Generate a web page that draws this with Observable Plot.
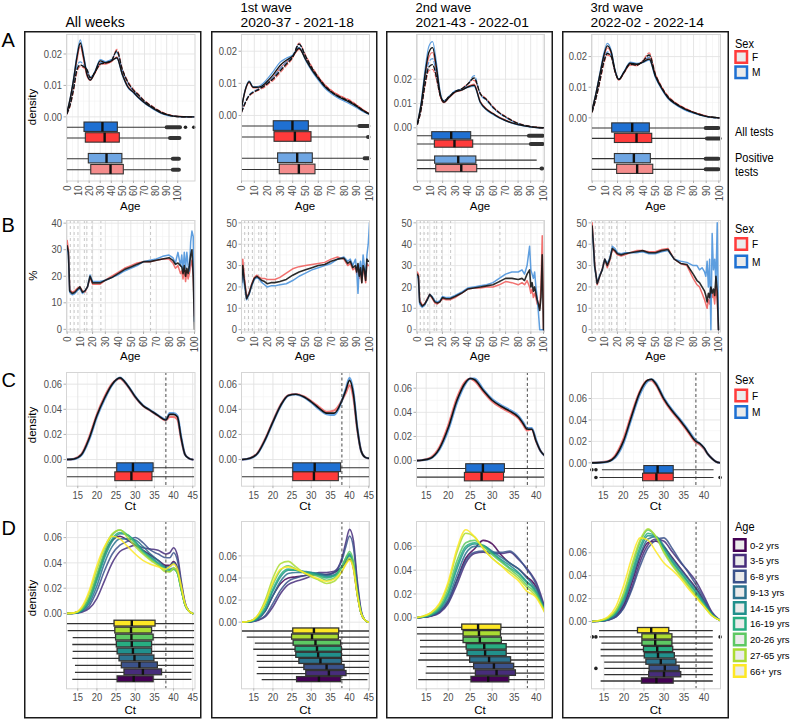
<!DOCTYPE html>
<html><head><meta charset="utf-8">
<script src="https://cdn.jsdelivr.net/npm/d3@7"></script>
<script src="https://cdn.jsdelivr.net/npm/@observablehq/plot@0.6"></script>
<style>
html,body{margin:0;padding:0;background:#fff;}
#root{position:relative;width:792px;height:720px;overflow:hidden;background:#fff;}
</style></head><body><div id="root"></div>
<script>
// ---------------- DATA ----------------
const colTitles = [["All weeks"], ["1st wave", "2020-37 - 2021-18"], ["2nd wave", "2021-43 - 2022-01"], ["3rd wave", "2022-02 - 2022-14"]];
const rowLetters = ["A", "B", "C", "D"];
const ageGroups = ["0-2 yrs","3-5 yrs","6-8 yrs","9-13 yrs","14-15 yrs","16-19 yrs","20-26 yrs","27-65 yrs","66+ yrs"];
const ageBreaks = [2.5, 5.5, 8.5, 13.5, 15.5, 19.5, 26.5, 65.5];
const ctCutoff = [38];

// Row A: age density (all tests solid, positive tests dashed)
const ageA1 = [0,3,6,9,12,15,18,21,25,30,35,40,45,50,55,60,65,70,75,80,85,90,95,100,105,110,115];
const ageA = [0,3,6,9,12,15,18,21,25,30,35,40,45,50,55,60,65,70,75,80,85,90,95,100];
const A1_all  = [0.0014,0.006,0.012,0.019,0.0235,0.019,0.0135,0.0117,0.014,0.0178,0.0172,0.0178,0.0188,0.0135,0.0095,0.0078,0.006,0.0045,0.0033,0.0022,0.0013,0.0007,0.0003,0.0001,0.00005,0,0];
const A1_allM = [0.0015,0.0062,0.0125,0.0198,0.0245,0.0198,0.014,0.0118,0.0142,0.0182,0.0176,0.0182,0.0186,0.0132,0.0093,0.0076,0.0058,0.0043,0.0031,0.002,0.0011,0.0005,0.0002,0.0001,0,0,0];
const A1_allF = [0.0013,0.0057,0.0115,0.018,0.0225,0.018,0.013,0.0116,0.0138,0.0172,0.0168,0.0175,0.0191,0.0138,0.0098,0.008,0.0062,0.0047,0.0035,0.0024,0.0015,0.0009,0.0004,0.0002,0.0001,0,0];
const A1_pos  = [0.001,0.004,0.009,0.015,0.0165,0.016,0.015,0.0125,0.014,0.0168,0.0172,0.0178,0.021,0.015,0.011,0.0085,0.0068,0.005,0.0037,0.0025,0.0015,0.0008,0.0003,0.0001,0,0,0];
const A1_posM = [0.0011,0.0045,0.0098,0.0162,0.0175,0.0165,0.0152,0.0126,0.0143,0.0172,0.0175,0.0182,0.0205,0.0148,0.0108,0.0083,0.0066,0.0048,0.0035,0.0023,0.0013,0.0007,0.0003,0.0001,0,0,0];
const A1_posF = [0.0009,0.0037,0.0085,0.0142,0.016,0.0156,0.0148,0.0124,0.0138,0.0165,0.017,0.0176,0.0215,0.0153,0.0113,0.0088,0.007,0.0052,0.0039,0.0027,0.0017,0.0009,0.0004,0.0001,0,0,0];

const A2_all  = [0.0023,0.008,0.0105,0.0088,0.0088,0.009,0.0098,0.011,0.0128,0.0155,0.0172,0.0185,0.0209,0.0175,0.0142,0.0115,0.009,0.0073,0.006,0.005,0.004,0.0028,0.0015,0.0004];
const A2_allM = [0.0024,0.0082,0.0108,0.009,0.009,0.0094,0.0104,0.0118,0.0138,0.0165,0.0178,0.0188,0.0212,0.0172,0.0138,0.011,0.0085,0.0068,0.0055,0.0045,0.0035,0.0024,0.0012,0.0003];
const A2_allF = [0.0022,0.0078,0.0102,0.0086,0.0086,0.0087,0.0093,0.0104,0.012,0.0147,0.0166,0.0182,0.0206,0.0178,0.0146,0.012,0.0095,0.0078,0.0065,0.0055,0.0045,0.0032,0.0018,0.0005];
const A2_pos  = [0.001,0.004,0.0062,0.0072,0.0078,0.0085,0.0092,0.0102,0.0115,0.0138,0.016,0.0182,0.0222,0.0185,0.0148,0.0118,0.0093,0.0075,0.0062,0.0052,0.0043,0.003,0.0016,0.0004];
const A2_posM = [0.0011,0.0042,0.0064,0.0074,0.008,0.0088,0.0096,0.0106,0.012,0.0145,0.0166,0.0185,0.0222,0.0182,0.0144,0.0114,0.0089,0.0071,0.0058,0.0048,0.0039,0.0027,0.0014,0.0003];
const A2_posF = [0.0009,0.0038,0.006,0.007,0.0076,0.0082,0.0088,0.0098,0.011,0.0132,0.0155,0.0179,0.0225,0.0188,0.0152,0.0122,0.0097,0.0079,0.0066,0.0056,0.0047,0.0033,0.0018,0.0005];

const A3_all  = [0.002,0.01,0.022,0.031,0.033,0.025,0.014,0.0105,0.0125,0.0148,0.0155,0.0168,0.0175,0.0105,0.0075,0.0058,0.0042,0.003,0.002,0.0013,0.0008,0.0004,0.0001,0];
const A3_allM = [0.002,0.011,0.024,0.0335,0.0355,0.027,0.015,0.0107,0.0127,0.015,0.0156,0.0166,0.017,0.0102,0.0072,0.0055,0.004,0.0028,0.0019,0.0012,0.0007,0.0003,0.0001,0];
const A3_allF = [0.0019,0.0095,0.0205,0.029,0.031,0.0235,0.0132,0.0103,0.0123,0.0146,0.0154,0.017,0.018,0.0108,0.0078,0.006,0.0044,0.0032,0.0021,0.0014,0.0009,0.0005,0.0002,0];
const A3_pos  = [0.0015,0.008,0.018,0.025,0.026,0.021,0.0135,0.011,0.0128,0.015,0.016,0.018,0.0205,0.014,0.0115,0.0085,0.0062,0.0045,0.003,0.0018,0.001,0.0005,0.0002,0];
const A3_posM = [0.0016,0.0085,0.019,0.027,0.0285,0.022,0.0138,0.0112,0.013,0.0152,0.016,0.0178,0.0215,0.0138,0.0112,0.0082,0.006,0.0043,0.0028,0.0017,0.0009,0.0004,0.0001,0];
const A3_posF = [0.0014,0.0075,0.017,0.0235,0.024,0.02,0.0132,0.0108,0.0126,0.0148,0.016,0.0182,0.0195,0.0142,0.0118,0.0088,0.0064,0.0047,0.0032,0.0019,0.0011,0.0006,0.0002,0];

const A4_all  = [0.0027,0.008,0.014,0.02,0.0235,0.0215,0.0155,0.0125,0.0148,0.0178,0.0175,0.0182,0.0192,0.0135,0.0095,0.0065,0.0048,0.0035,0.0025,0.0017,0.001,0.0005,0.0002,0];
const A4_allM = [0.0027,0.0082,0.0145,0.0208,0.0243,0.022,0.0158,0.0126,0.015,0.0182,0.0178,0.018,0.0188,0.013,0.0092,0.0062,0.0045,0.0032,0.0022,0.0015,0.0009,0.0004,0.0001,0];
const A4_allF = [0.0026,0.0078,0.0135,0.0192,0.0228,0.021,0.0152,0.0124,0.0146,0.0174,0.0172,0.0184,0.0197,0.014,0.0098,0.0068,0.0051,0.0038,0.0028,0.0019,0.0012,0.0006,0.0002,0];
const A4_pos  = [0.002,0.0065,0.012,0.018,0.021,0.02,0.0152,0.0125,0.0148,0.0175,0.0172,0.0185,0.0205,0.014,0.0098,0.0068,0.005,0.0037,0.0026,0.0018,0.0011,0.0005,0.0002,0];
const A4_posM = [0.0021,0.0068,0.0125,0.0185,0.0215,0.0203,0.0153,0.0126,0.015,0.0178,0.0175,0.0183,0.0198,0.0136,0.0095,0.0065,0.0048,0.0035,0.0024,0.0017,0.001,0.0005,0.0002,0];
const A4_posF = [0.0019,0.0062,0.0115,0.0172,0.0205,0.0198,0.015,0.0124,0.0146,0.0172,0.017,0.0187,0.0212,0.0144,0.0101,0.0071,0.0052,0.0039,0.0028,0.0019,0.0012,0.0006,0.0002,0];

// Row A boxplots, order: M all, F all, M positive, F positive
const A1_q1 = [15.8,17,19.7,21.9], A1_med = [32,34,35.7,39.3], A1_q3 = [45.9,47.7,50,51.3], A1_hi = [90,93,95,95];
const A1_oLo = [90.5,93.5,96,96], A1_oHi = [102.5,102,101.5,101.5], A1_dots = [[107,114.5],[],[],[]];
const A2_q1 = [25.2,25.8,28.6,29.9], A2_med = [39.8,41.7,43.5,44.8], A2_q3 = [52.6,54.7,55.7,57.8], A2_hi = [92,98.5,95,99.5];
const A2_oLo = [92.5,99.2,96.5,null], A2_oHi = [99.5,99.6,99.5,null], A2_dots = [[],[],[],[]];
const A3_q1 = [11.7,13.8,14,14.9], A3_med = [26.8,29.4,32.4,34.8], A3_q3 = [42.7,44.3,46.8,47.5], A3_hi = [88.5,90,95.2,97.8];
const A3_oLo = [89,90.5,null,99], A3_oHi = [100,100,null,99.5], A3_dots = [[],[],[],[]];
const A4_q1 = [15.8,17.9,17.9,19.7], A4_med = [31.6,35,32.9,35.5], A4_q3 = [45.5,47.4,46.3,48.2], A4_hi = [89.5,90.4,89.5,89.5];
const A4_oLo = [90,91,90,90], A4_oHi = [100,101,100,100], A4_dots = [[],[],[],[]];

// Row B: positivity (%) by age
const ageB = [0,1,2,4,6,8,10,12,14,16,18,20,23,26,30,35,40,45,50,55,60,65,70,75,80,83,85,87,89,90,91,92,93,94,95,96,97,98,99,100];
const B1_all = [31.5,29,14.5,13.5,14,15,16,14,14.5,16,20,17.5,17.5,17.5,18.5,19.5,21,22.5,23.5,24.5,25.5,25.5,26,26.5,27,26,24.5,25,24,23.5,21,24,20,23,21,24,28,30,20,0];
const B1_F   = [33.5,30,15,14,14.5,15.5,16,14.5,14,16,19.5,17,17,17,18.5,20,21.5,23,24,25,25.5,25.5,26,26.5,26.5,25,23,24,21,22,19,23,18,22,19,21,24,26,20,5];
const B1_M   = [30.5,28,14,13,13.5,14.5,15.5,13.5,14.5,16,20.5,18,18,18,18.5,19.5,20.5,22,23,24,25.5,26,26.5,27.5,28,27,25,29,24,28,22,29,23,29,24,22,33,37,35,3];
const B2_all = [22,30,24,14.5,17,21,24,25,24,23,22.5,21.5,22,22,22.5,23.5,25.5,27,28,29,30,30.5,32,33,33.5,31,32,29,30,27,31,25,29,22,30,28,23,33,32,32];
const B2_F   = [24,33,26,15,17.5,21.5,24.5,25.5,24.5,24,24,23.5,23.5,23.5,24.5,26.5,28.5,29.5,30,30.5,31,31.5,33,34,33,30,31,28,29,26,30,24,28,22,29,26,22,31,30,30];
const B2_M   = [19,28,22,14,16.5,20.5,23.5,24.5,23.5,22,21,20,20.5,20.5,21,21.5,23,25,26.5,28,29,30,31,33,34,32,33,30,33,28,17,29,32,25,35,30,25,35,40,50];
const B3_all = [26,25,13,11,12,14,16.5,15,13,12.5,13,15,14.5,14.5,15.5,17,19,19.5,20,20.5,21,22.5,24,24,23.5,24,23,26,28,20,22,18,20,17,14,12,9,15,35,0];
const B3_F   = [27,26,14,11.5,12,14.5,16.5,14.5,12.5,12,13,14.5,14,14,15,17,19,19.5,19.5,20,20,21,22.5,22,21,22,21,23,20,17,19,15,17,15,12,12,10,20,44,0];
const B3_M   = [25,24,12,10.5,11.5,14,16.5,15.5,13.5,13,13.5,15.5,15,15,16,17.5,19.5,20,20.5,21,22,24,26,27,27,28,26,30,39,28,26,24,27,20,15,8,0,0,0,0];
const B4_all = [48.5,40,30,21.5,25,28,33,30,33,38,37,35.5,35,35.5,36,36.5,37,36,36,37,37.5,33,31,30.5,26,23,22,20,18,16,13,17,15,20,17,19,16,25,18,0];
const B4_F   = [50,41,31,21,25,28.5,33,29,32.5,37.5,36.5,35,34.5,35,36,37,37,36.5,36.5,37.5,38,33,31,30,24,21,20,17,14,12,10,14,12,18,15,17,12,20,14,0];
const B4_M   = [47,39,29,22,25.5,28,33,31,33.5,39,38,36,35.5,36,36,36,36.5,35.5,35.5,36.5,37,33,32,31.5,30,30,28,29,27,25,32,20,33,0,45,28,33,22,50,0];

// Row C: Ct density by sex
const ctC12 = [12,14,16,18,20,22,24,26,28,30,32,34,36,38,39,40,41,42,43,44,45];
const C1_all = [0,0.0005,0.004,0.017,0.035,0.049,0.06,0.065,0.059,0.05,0.043,0.039,0.035,0.0315,0.036,0.036,0.034,0.017,0.004,0.001,0];
const C1_F   = [0,0.0006,0.0045,0.018,0.036,0.05,0.0605,0.0645,0.0585,0.0495,0.0428,0.0388,0.0348,0.0313,0.034,0.034,0.032,0.016,0.004,0.001,0];
const C1_M   = [0,0.0004,0.0037,0.016,0.034,0.048,0.0595,0.0652,0.0592,0.0502,0.0432,0.0392,0.0352,0.0318,0.037,0.037,0.035,0.018,0.004,0.001,0];
const C2_all = [0,0.001,0.005,0.016,0.03,0.043,0.051,0.052,0.05,0.046,0.041,0.037,0.037,0.047,0.055,0.063,0.052,0.025,0.007,0.002,0.001];
const C2_F   = [0,0.0011,0.0053,0.0165,0.0305,0.0435,0.0512,0.0522,0.0503,0.0465,0.042,0.038,0.039,0.047,0.053,0.059,0.049,0.024,0.007,0.002,0.001];
const C2_M   = [0,0.0009,0.0047,0.0155,0.0295,0.0425,0.0508,0.0518,0.0497,0.0455,0.0402,0.0362,0.0355,0.047,0.056,0.065,0.054,0.026,0.007,0.002,0.001];
const ctC3 = [12.8,14,16,18,20,22,24,25,26,28,30,32,34,36,37,38,39,40,41,42];
const C3_all = [0,0.0003,0.002,0.01,0.027,0.05,0.065,0.068,0.067,0.058,0.05,0.045,0.041,0.036,0.031,0.026,0.026,0.016,0.008,0.004];
const C3_F   = [0,0.0004,0.0025,0.011,0.029,0.052,0.066,0.068,0.066,0.057,0.049,0.044,0.04,0.035,0.03,0.025,0.026,0.016,0.008,0.004];
const C3_M   = [0,0.0003,0.0018,0.009,0.025,0.048,0.064,0.068,0.068,0.059,0.051,0.046,0.042,0.037,0.032,0.027,0.027,0.017,0.008,0.004];
const ctC4 = [12,14,16,18,20,22,24,26,27,28,30,32,34,36,38,39,40,41,42,43,44];
const C4_all = [0,0.0002,0.001,0.006,0.02,0.043,0.065,0.077,0.078,0.074,0.06,0.049,0.04,0.03,0.02,0.018,0.014,0.008,0.004,0.001,0];
const C4_F   = [0,0.0003,0.0013,0.007,0.022,0.045,0.066,0.077,0.077,0.073,0.059,0.048,0.039,0.029,0.019,0.017,0.013,0.008,0.004,0.001,0];
const C4_M   = [0,0.0002,0.0009,0.005,0.018,0.041,0.063,0.076,0.078,0.075,0.061,0.05,0.041,0.031,0.021,0.018,0.014,0.008,0.004,0.001,0];
// Row C boxplots, order: M, F
const C1_q1 = [25.3,24.8], C1_med = [29.4,29], C1_q3 = [34.8,34.5], C1_lo = [12.1,12.1], C1_hi = [45.5,45.5], C1_dots = [[],[]];
const C2_q1 = [25.3,25.3], C2_med = [30.9,30.7], C2_q3 = [37.8,37.2], C2_lo = [15,12], C2_hi = [45.2,45.2], C2_dots = [[],[]];
const C3_q1 = [24.1,23.8], C3_med = [27.9,27.6], C3_q3 = [32.9,32.7], C3_lo = [12.8,12.8], C3_hi = [41.9,41.9], C3_dots = [[],[]];
const C4_q1 = [25.2,24.9], C4_med = [28.5,28.2], C4_q3 = [32.5,32.5], C4_lo = [14.8,14.2], C4_hi = [42.5,42.5], C4_dots = [[12.2,13.2],[13.2,44]];

// Row D: Ct density by age group (0-2 ... 66+)
const ctD12 = [12,14,16,18,20,22,24,26,28,30,32,34,36,38,39,40,41,42,43,44,45];
const D1 = [
  [0,0.0003,0.003,0.012,0.029,0.047,0.058,0.061,0.058,0.054,0.05,0.046,0.042,0.038,0.038,0.041,0.036,0.021,0.007,0.002,0],
  [0,0.0001,0.001,0.004,0.012,0.026,0.04,0.049,0.052,0.054,0.052,0.051,0.05,0.047,0.048,0.052,0.046,0.026,0.009,0.002,0],
  [0,0.0002,0.0015,0.006,0.018,0.034,0.047,0.054,0.057,0.06,0.056,0.05,0.047,0.044,0.044,0.048,0.042,0.024,0.008,0.002,0],
  [0,0.0002,0.002,0.008,0.022,0.04,0.053,0.059,0.059,0.058,0.053,0.047,0.042,0.037,0.037,0.04,0.035,0.02,0.007,0.002,0],
  [0,0.0003,0.002,0.01,0.026,0.044,0.057,0.063,0.062,0.057,0.05,0.045,0.04,0.036,0.035,0.036,0.032,0.019,0.007,0.002,0],
  [0,0.0003,0.003,0.011,0.028,0.046,0.059,0.064,0.062,0.056,0.049,0.044,0.039,0.035,0.034,0.035,0.032,0.019,0.007,0.002,0],
  [0,0.0004,0.003,0.013,0.031,0.049,0.062,0.066,0.062,0.055,0.048,0.043,0.038,0.034,0.033,0.035,0.032,0.019,0.007,0.002,0],
  [0,0.0005,0.004,0.016,0.035,0.052,0.063,0.066,0.06,0.053,0.047,0.042,0.038,0.033,0.033,0.036,0.033,0.02,0.007,0.002,0],
  [0,0.0005,0.005,0.018,0.038,0.053,0.061,0.059,0.053,0.047,0.042,0.039,0.037,0.035,0.037,0.039,0.035,0.022,0.008,0.002,0]
];
const D2 = [
  [0,0.0005,0.003,0.01,0.024,0.035,0.04,0.041,0.042,0.043,0.043,0.043,0.045,0.05,0.054,0.057,0.049,0.025,0.008,0.002,0],
  [0,0.0002,0.0015,0.005,0.014,0.026,0.034,0.037,0.039,0.042,0.045,0.045,0.046,0.058,0.072,0.084,0.074,0.038,0.011,0.002,0],
  [0,0.0003,0.002,0.006,0.017,0.029,0.037,0.04,0.042,0.043,0.044,0.043,0.045,0.056,0.068,0.078,0.068,0.035,0.01,0.002,0],
  [0,0.0004,0.003,0.01,0.024,0.037,0.044,0.045,0.045,0.045,0.044,0.042,0.043,0.05,0.056,0.061,0.052,0.027,0.008,0.002,0],
  [0,0.0005,0.003,0.012,0.028,0.041,0.047,0.047,0.046,0.045,0.043,0.041,0.042,0.05,0.056,0.06,0.051,0.026,0.008,0.002,0],
  [0,0.0006,0.004,0.013,0.03,0.043,0.048,0.047,0.045,0.044,0.042,0.04,0.042,0.051,0.058,0.062,0.053,0.027,0.008,0.002,0],
  [0,0.0008,0.005,0.016,0.034,0.047,0.051,0.048,0.045,0.043,0.041,0.038,0.04,0.05,0.058,0.064,0.055,0.028,0.009,0.002,0],
  [0,0.001,0.006,0.02,0.04,0.053,0.055,0.05,0.045,0.041,0.038,0.035,0.037,0.046,0.053,0.058,0.05,0.026,0.008,0.002,0],
  [0,0.001,0.006,0.018,0.036,0.048,0.05,0.048,0.045,0.042,0.039,0.037,0.039,0.046,0.052,0.056,0.048,0.025,0.008,0.002,0]
];
const ctD3 = [12.8,14,16,18,20,22,24,26,28,30,32,34,36,38,39,40,41,42];
const D3 = [
  [0,0.0004,0.0015,0.005,0.014,0.032,0.05,0.058,0.065,0.062,0.053,0.046,0.041,0.034,0.031,0.026,0.017,0.006],
  [0,0.0003,0.0012,0.004,0.012,0.028,0.046,0.054,0.055,0.054,0.054,0.055,0.049,0.041,0.036,0.03,0.02,0.008],
  [0,0.0003,0.0015,0.005,0.013,0.031,0.048,0.055,0.056,0.055,0.055,0.056,0.05,0.04,0.035,0.028,0.018,0.007],
  [0,0.0004,0.0018,0.006,0.016,0.036,0.054,0.06,0.06,0.056,0.051,0.046,0.041,0.033,0.029,0.024,0.016,0.006],
  [0,0.0005,0.002,0.007,0.019,0.041,0.058,0.062,0.061,0.055,0.049,0.044,0.038,0.03,0.027,0.022,0.014,0.005],
  [0,0.0006,0.0025,0.008,0.021,0.044,0.06,0.063,0.06,0.054,0.048,0.042,0.037,0.029,0.026,0.021,0.014,0.005],
  [0,0.0008,0.003,0.009,0.024,0.048,0.063,0.065,0.06,0.053,0.047,0.041,0.035,0.027,0.024,0.02,0.013,0.005],
  [0,0.001,0.004,0.011,0.028,0.055,0.071,0.068,0.058,0.05,0.044,0.039,0.033,0.025,0.022,0.018,0.012,0.005],
  [0,0.001,0.004,0.012,0.03,0.058,0.074,0.068,0.058,0.05,0.044,0.037,0.031,0.022,0.02,0.017,0.011,0.004]
];
const ctD4 = [12,14,16,18,20,22,24,26,28,30,32,34,36,38,40,42,44];
const D4 = [
  [0,0.0004,0.0016,0.005,0.015,0.034,0.056,0.069,0.07,0.065,0.056,0.047,0.038,0.029,0.018,0.006,0.001],
  [0,0.0003,0.0013,0.004,0.013,0.03,0.052,0.067,0.072,0.07,0.061,0.052,0.044,0.035,0.022,0.008,0.001],
  [0,0.0003,0.0013,0.004,0.012,0.028,0.048,0.064,0.071,0.073,0.064,0.053,0.043,0.032,0.02,0.007,0.001],
  [0,0.0004,0.0018,0.006,0.017,0.037,0.058,0.072,0.074,0.066,0.055,0.046,0.037,0.028,0.017,0.006,0.001],
  [0,0.0005,0.002,0.007,0.019,0.04,0.062,0.075,0.074,0.064,0.053,0.044,0.035,0.026,0.016,0.006,0.001],
  [0,0.0006,0.0025,0.008,0.021,0.043,0.065,0.077,0.074,0.063,0.052,0.043,0.034,0.025,0.015,0.006,0.001],
  [0,0.0007,0.003,0.009,0.024,0.047,0.069,0.08,0.074,0.061,0.05,0.041,0.032,0.023,0.014,0.005,0.001],
  [0,0.0008,0.003,0.01,0.026,0.05,0.071,0.081,0.074,0.06,0.049,0.04,0.031,0.022,0.013,0.005,0.001],
  [0,0.001,0.004,0.013,0.032,0.056,0.073,0.071,0.061,0.051,0.045,0.038,0.029,0.021,0.013,0.005,0.001]
];
// Row D boxplots by age group (0-2 ... 66+)
const D1_q1 = [25.4,27.2,26.5,25.9,25.4,25.2,25,24.8,24.6], D1_med = [29.6,32,31.1,29.8,29.4,29.1,29,28.9,29.1], D1_q3 = [34.8,37,35.9,35,34.4,34.4,34.8,34.4,35.3];
const D1_lo = [13.7,14.4,14.4,13.7,13.8,13.7,13.8,12.5,12.2], D1_hi = [44.8,44.8,45.5,45.5,45.2,45.5,45.5,45.5,45.5];
const D2_q1 = [26.3,28.7,28.2,26.9,26.1,25.9,25.4,25,25.3], D2_med = [32,34.6,34,32.4,31.8,31.5,31.1,30.2,30.7], D2_q3 = [37.8,39.2,38.7,38,38,38,37.8,37.2,37.3];
const D2_lo = [17.2,15.9,16.3,15.9,15.9,15,15.4,13.3,12], D2_hi = [44.8,45.2,45.2,45.2,45.2,45.2,45.2,45.2,45.2];
const D3_q1 = [25.3,26.3,25.9,25,24.4,24.2,23.5,23.5,23.2], D3_med = [29.1,31,30.4,29.3,28.4,28.2,27.2,27,26.8], D3_q3 = [33.9,35.4,35,34.3,33.3,33.3,32.2,32,32.1];
const D3_lo = [13.3,15,15.2,13.3,13.7,13.7,13.7,12.9,12.9], D3_hi = [41.9,41.9,41.9,41.9,41.9,41.9,41.9,41.9,41.9];
const D4_q1 = [24.5,26.3,26.4,25.6,25.2,25,24.6,24.6,23.5], D4_med = [28.1,30,30.2,29.2,28.5,28.3,27.8,27.8,26.8], D4_q3 = [32.4,34.3,33.9,33.1,32.7,32.3,32.1,32.1,31.3];
const D4_lo = [14.3,15.2,15.2,15.2,14.3,14.3,14.5,13.9,13.9], D4_hi = [42.3,42.3,42.3,42.3,42.3,42.3,42.3,42.3,42.3];
const D4_dots = [[],[],[13],[],[],[],[],[12.1,13,44],[]];

// ---------------- STYLE / LAYOUT ----------------
const FONT = "'Liberation Sans', Arial, Helvetica, sans-serif";
const RED_L = "#f0625f", BLUE_L = "#4c93dc", BLK = "#141414";
const RED_D = "#ff3b3b", BLUE_D = "#1f70d2", RED_P = "#f48c8c", BLUE_P = "#6fa6e3";
const VIR = ["#440154","#472D7B","#3B528B","#2C728E","#21908C","#27AD81","#5DC863","#AADC32","#FDE725"];

const cols = [{l:66,r:194.5},{l:241,r:369},{l:416,r:544},{l:591,r:720}];
const rowsY = {A:{t:33.5,b:180}, B:{t:220,b:331.5}, C:{t:372,b:485.7}, D:{t:521,b:688.3}};
const root = document.getElementById("root");

// horizontally condense a text element (emulates the narrow label face of the original)
function condense(t, k) {
  const L = t.getComputedTextLength();
  if (L > 0) { t.setAttribute("textLength", (L * k).toFixed(2)); t.setAttribute("lengthAdjust", "spacingAndGlyphs"); }
}

function panel(ci, row, o) {
  const c = cols[ci], r = rowsY[row];
  const ML = 42, MR = 6, MT = 4, MB = 26;
  const W = c.r - c.l, H = r.b - r.t;
  const mid = a => a.slice(1).map((v, i) => (v + a[i]) / 2);
  const svg = Plot.plot({
    width: W + ML + MR, height: H + MT + MB,
    marginLeft: ML, marginRight: MR, marginTop: MT, marginBottom: MB,
    x: {domain: o.xdom}, y: {domain: o.ydom}, color: {type: "identity"},
    style: {fontFamily: FONT, fontSize: "11.5px", background: "transparent", color: "#4d4d4d", overflow: "visible", maxWidth: "none"},
    marks: [
      Plot.gridY({ticks: mid(o.yt), stroke: "#f2f2f2", strokeOpacity: 1, strokeWidth: 0.6}),
      Plot.gridX({ticks: mid(o.xt), stroke: "#f2f2f2", strokeOpacity: 1, strokeWidth: 0.6}),
      Plot.gridY({ticks: o.yt, stroke: "#e3e3e3", strokeOpacity: 1, strokeWidth: 0.9}),
      Plot.gridX({ticks: o.xt, stroke: "#e3e3e3", strokeOpacity: 1, strokeWidth: 0.9}),
      ...o.marks,
      Plot.frame({stroke: "#d5d5d5"}),
      Plot.axisX({ticks: o.xt, tickSize: 2.5, tickPadding: 2, tickRotate: o.rot ? -90 : 0, stroke: "#b0b0b0", fill: "#4d4d4d", label: null, tickFormat: d3.format("d")}),
      Plot.axisY({ticks: o.yt, tickSize: 2.5, tickPadding: 2, tickFormat: o.yfmt, stroke: "#b0b0b0", fill: "#4d4d4d", label: null})
    ]
  });
  svg.style.position = "absolute";
  svg.style.left = (c.l - ML) + "px";
  svg.style.top = (r.t - MT) + "px";
  root.appendChild(svg);
  svg.querySelectorAll("text").forEach(t => condense(t, 0.82));
}

const ln = (xs, ys, stroke, o = {}) => Plot.line(xs, {x: xs, y: ys, stroke, strokeWidth: o.w ?? 1.3,
  strokeDasharray: o.dash, strokeOpacity: o.op ?? 1, curve: o.curve ?? "monotone-x", clip: true});

function boxRows(q1, med, q3, lo, hi, ys, fills, oLo, oHi, dots) {
  return q1.map((_, i) => ({y: ys[i], q1: q1[i], med: med[i], q3: q3[i], lo: lo[i], hi: hi[i], fill: fills[i],
    oLo: oLo ? oLo[i] : null, oHi: oHi ? oHi[i] : null, dots: dots ? dots[i] : []}));
}
function boxMarks(rows, h, lw = 1.1) {
  const out = rows.filter(r => r.oLo != null);
  const dots = rows.flatMap(r => r.dots.map(x => ({x, y: r.y})));
  return [
    Plot.ruleY(rows, {y: "y", x1: "lo", x2: "hi", stroke: "#333", strokeWidth: lw}),
    Plot.ruleY(out, {y: "y", x1: "oLo", x2: "oHi", stroke: "#333", strokeWidth: 4, strokeLinecap: "round"}),
    Plot.dot(dots, {x: "x", y: "y", r: 1.8, fill: "#222"}),
    Plot.rect(rows, {x1: "q1", x2: "q3", y1: d => d.y - h, y2: d => d.y + h, fill: "fill", stroke: "#333", strokeWidth: lw}),
    Plot.ruleX(rows, {x: "med", y1: d => d.y - h, y2: d => d.y + h, stroke: "#111", strokeWidth: 2.4})
  ];
}

// ---------- Row A ----------
const ageTicks = d3.range(0, 101, 10);
const A_sets = [
  [ageA1, A1_allF, A1_allM, A1_all, A1_posF, A1_posM, A1_pos, A1_q1, A1_med, A1_q3, A1_hi, A1_oLo, A1_oHi, A1_dots],
  [ageA, A2_allF, A2_allM, A2_all, A2_posF, A2_posM, A2_pos, A2_q1, A2_med, A2_q3, A2_hi, A2_oLo, A2_oHi, A2_dots],
  [ageA, A3_allF, A3_allM, A3_all, A3_posF, A3_posM, A3_pos, A3_q1, A3_med, A3_q3, A3_hi, A3_oLo, A3_oHi, A3_dots],
  [ageA, A4_allF, A4_allM, A4_all, A4_posF, A4_posM, A4_pos, A4_q1, A4_med, A4_q3, A4_hi, A4_oLo, A4_oHi, A4_dots]
];
const AX = [[-0.45,115.6],[0,100],[-0.8,101],[-0.55,101.3]];
const AY = [[-0.0204,0.0262],[-0.0204,0.0252],[-0.0219,0.0384],[-0.0206,0.0272]];
const A_BOX_Y = [-0.0033,-0.0067,-0.0133,-0.0168];
A_sets.forEach((s, i) => {
  const [ag, aF, aM, a, pF, pM, p, q1, med, q3, hi, oLo, oHi, dots] = s;
  const rows = boxRows(q1, med, q3, [0,0,0,0], hi, A_BOX_Y, [BLUE_D, RED_D, BLUE_P, RED_P], oLo, oHi, dots);
  panel(i, "A", {xdom: AX[i], ydom: AY[i], xt: ageTicks, yt: [0, 0.01, 0.02], yfmt: d3.format(".2f"), rot: true,
    marks: [
      ln(ag, aF, RED_L, {w: 1.2, op: 0.9}), ln(ag, aM, BLUE_L, {w: 1.2, op: 0.9}),
      ln(ag, pF, RED_L, {w: 1.2, op: 0.9, dash: "4,2.5"}), ln(ag, pM, BLUE_L, {w: 1.2, op: 0.9, dash: "4,2.5"}),
      ln(ag, a, BLK, {w: 1.4}), ln(ag, p, BLK, {w: 1.4, dash: "4,2.5"}),
      ...boxMarks(rows, 0.0015)
    ]});
});

// ---------- Row B ----------
const B_sets = [[B1_F, B1_M, B1_all], [B2_F, B2_M, B2_all], [B3_F, B3_M, B3_all], [B4_F, B4_M, B4_all]];
const BX = [[-0.5,100.4],[0,100],[-0.5,100.8],[-0.5,101.6]];
const BY = [[-1,41],[-1.1,51.1],[-1.1,51.1],[-1.1,51.1]];
B_sets.forEach((s, i) => {
  panel(i, "B", {xdom: BX[i], ydom: BY[i], xt: ageTicks, yt: i === 0 ? [0,10,20,30,40] : [0,10,20,30,40,50],
    yfmt: d3.format("d"), rot: true,
    marks: [
      Plot.ruleX(ageBreaks, {stroke: "#b8b8b8", strokeDasharray: "3,3", strokeWidth: 0.8}),
      ln(ageB, s[0], RED_L, {w: 1.5, op: 0.9, curve: "linear"}),
      ln(ageB, s[1], BLUE_L, {w: 1.5, op: 0.9, curve: "linear"}),
      ln(ageB, s[2], BLK, {w: 1.6, op: 0.9, curve: "linear"})
    ]});
});

// ---------- Row C ----------
const C_sets = [
  [ctC12, C1_F, C1_M, C1_all, C1_q1, C1_med, C1_q3, C1_lo, C1_hi, C1_dots],
  [ctC12, C2_F, C2_M, C2_all, C2_q1, C2_med, C2_q3, C2_lo, C2_hi, C2_dots],
  [ctC3, C3_F, C3_M, C3_all, C3_q1, C3_med, C3_q3, C3_lo, C3_hi, C3_dots],
  [ctC4, C4_F, C4_M, C4_all, C4_q1, C4_med, C4_q3, C4_lo, C4_hi, C4_dots]
];
const CX = [[12.06,45.6],[11.8,45.2],[12.8,41.9],[12.1,44.1]];
const CY = [[-0.0212,0.0693],[-0.0212,0.0693],[-0.0212,0.073],[-0.0218,0.0843]];
const C_BOX_Y = [-0.0065,-0.0137];
const ctTicks = [[15,20,25,30,35,40,45],[15,20,25,30,35,40,45],[15,20,25,30,35,40],[15,20,25,30,35,40]];
C_sets.forEach((s, i) => {
  const [ct, F, M, a, q1, med, q3, lo, hi, dots] = s;
  const rows = boxRows(q1, med, q3, lo, hi, C_BOX_Y, [BLUE_D, RED_D], null, null, dots);
  panel(i, "C", {xdom: CX[i], ydom: CY[i], xt: ctTicks[i], yt: [0,0.02,0.04,0.06], yfmt: d3.format(".2f"),
    marks: [
      ln(ct, F, RED_L, {w: 2.2, op: 0.85}), ln(ct, M, BLUE_L, {w: 2.2, op: 0.85}), ln(ct, a, BLK, {w: 1.6}),
      Plot.ruleX(ctCutoff, {stroke: "#333", strokeDasharray: "3,2.5", strokeWidth: 0.9}),
      ...boxMarks(rows, 0.0035)
    ]});
});

// ---------- Row D ----------
const D_sets = [
  [ctD12, D1, D1_q1, D1_med, D1_q3, D1_lo, D1_hi, null],
  [ctD12, D2, D2_q1, D2_med, D2_q3, D2_lo, D2_hi, null],
  [ctD3, D3, D3_q1, D3_med, D3_q3, D3_lo, D3_hi, null],
  [ctD4, D4, D4_q1, D4_med, D4_q3, D4_lo, D4_hi, D4_dots]
];
const DX = [[12.06,45.6],[11.8,45.2],[12.8,41.9],[11.9,44.1]];
const DY = [[-0.0595,0.0727],[-0.0603,0.0911],[-0.0597,0.0809],[-0.0588,0.0873]];
const D_BOX_Y = ageGroups.map((_, g) => -0.008 - (8 - g) * 0.0055);
D_sets.forEach((s, i) => {
  const [ct, curves, q1, med, q3, lo, hi, dots] = s;
  const rows = boxRows(q1, med, q3, lo, hi, D_BOX_Y, VIR, null, null, dots || ageGroups.map(() => []));
  panel(i, "D", {xdom: DX[i], ydom: DY[i], xt: ctTicks[i], yt: [0,0.02,0.04,0.06], yfmt: d3.format(".2f"),
    marks: [
      ...curves.map((ys, g) => ln(ct, ys, VIR[g], {w: 1.6, op: 0.85})),
      Plot.ruleX(ctCutoff, {stroke: "#333", strokeDasharray: "3,2.5", strokeWidth: 0.9}),
      ...boxMarks(rows, 0.0023, 1.3)
    ]});
});

// ---------------- overlay: frames, titles, legends ----------------
const ov = d3.create("svg").attr("width", 792).attr("height", 720)
  .style("position", "absolute").style("left", "0px").style("top", "0px").style("pointer-events", "none");
const narrowTexts = [];
function txt(x, y, s, o = {}) {
  const t = ov.append("text").attr("x", x).attr("y", y).attr("font-size", o.size || 12)
    .attr("font-family", FONT).attr("fill", o.fill || "#000").attr("text-anchor", o.anchor || "start").text(s);
  if (o.rotate) t.attr("transform", `rotate(${o.rotate},${x},${y})`);
  if (o.k) narrowTexts.push([t.node(), o.k]);
}
const boxesX = [[24,201.5],[211,377.5],[386,553],[562,729]];
boxesX.forEach(([a, b]) => ov.append("rect").attr("x", a + 0.75).attr("y", 31.75).attr("width", b - a - 1.5).attr("height", 686)
  .attr("fill", "none").attr("stroke", "#1a1a1a").attr("stroke-width", 1.5));

colTitles.forEach((t, i) => {
  const x = cols[i].l - 0.5;
  if (t.length === 1) txt(x, 26.5, t[0], {size: 14});
  else { txt(x, 12, t[0], {size: 13}); txt(x, 26.5, t[1], {size: 13, k: 1.06}); }
});
[[47,"A"],[232,"B"],[387,"C"],[535,"D"]].forEach(([y, s]) => txt(1.5, y, s, {size: 20}));

cols.forEach(c => {
  const cx = (c.l + c.r) / 2;
  txt(cx, 209.5, "Age", {size: 11.5, anchor: "middle"});
  txt(cx, 359.5, "Age", {size: 11.5, anchor: "middle"});
  txt(cx, 509.5, "Ct", {size: 11.5, anchor: "middle"});
  txt(cx, 713.5, "Ct", {size: 11.5, anchor: "middle"});
});
txt(35.5, 107, "density", {size: 11.5, anchor: "middle", rotate: -90});
txt(36.5, 275.5, "%", {size: 11.5, anchor: "middle", rotate: -90});
txt(35.5, 425, "density", {size: 11.5, anchor: "middle", rotate: -90});
txt(35.5, 598, "density", {size: 11.5, anchor: "middle", rotate: -90});

function sq(x, y, col) {
  ov.append("rect").attr("x", x).attr("y", y + 1.25).attr("width", 11.5).attr("height", 11.5)
    .attr("fill", "#ebebeb").attr("stroke", col).attr("stroke-width", 2.5);
}
function sexLegend(yTitle, yF, yM) {
  txt(735, yTitle, "Sex", {size: 12.5, k: 0.88});
  sq(735.5, yF, RED_D); txt(752, yF + 11, "F", {size: 11.5, k: 0.88});
  sq(735.5, yM, BLUE_D); txt(752, yM + 11, "M", {size: 11.5, k: 0.88});
}
sexLegend(47.5, 50, 65.3);
txt(735, 136, "All tests", {size: 12.5, k: 0.88});
txt(735, 161.5, "Positive", {size: 12.5, k: 0.88});
txt(735, 175.5, "tests", {size: 12.5, k: 0.88});
sexLegend(232.5, 237, 254.5);
sexLegend(384, 388.5, 405);
txt(735, 530.5, "Age", {size: 12.5, k: 0.88});
ageGroups.forEach((g, i) => {
  const y = 538 + i * 15.75;
  sq(734, y, VIR[i]);
  txt(750, y + 10.5, g, {size: 9.5});
});
root.appendChild(ov.node());
narrowTexts.forEach(([t, k]) => condense(t, k));
</script></body></html>
